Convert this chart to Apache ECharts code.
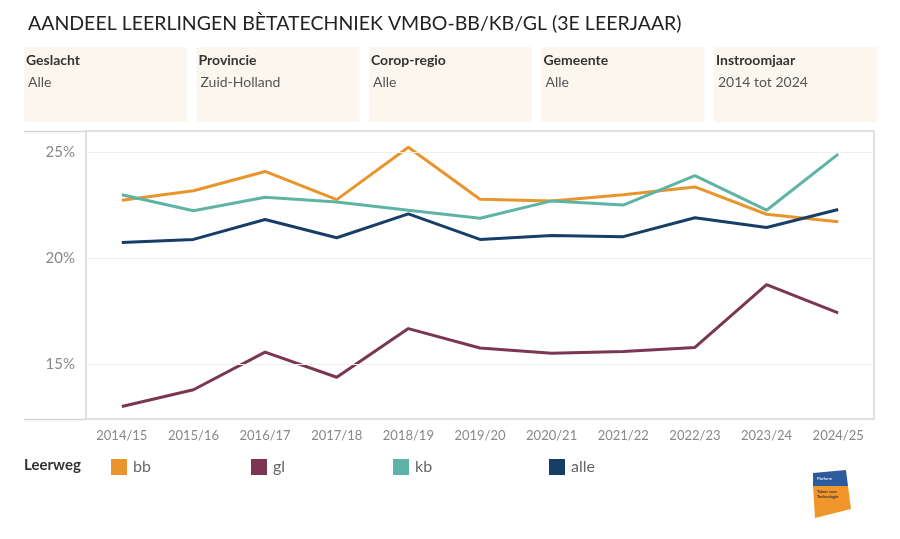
<!DOCTYPE html>
<html>
<head>
<meta charset="utf-8">
<script src="https://cdn.jsdelivr.net/npm/echarts@6/dist/echarts.min.js"></script>
<style>
  html, body { margin: 0; padding: 0; background: #fff; }
  #chart { width: 900px; height: 539px; }
</style>
</head>
<body>
<div id="chart"></div>
<script>
// schooljaren (x-as)
const years = ['2014/15', '2015/16', '2016/17', '2017/18', '2018/19', '2019/20', '2020/21', '2021/22', '2022/23', '2023/24', '2024/25'];

// aandeel per leerweg, in procenten
const bb   = [22.73, 23.18, 24.09, 22.76, 25.23, 22.78, 22.70, 22.99, 23.36, 22.07, 21.71];
const gl   = [12.99, 13.78, 15.56, 14.37, 16.67, 15.75, 15.51, 15.59, 15.78, 18.75, 17.41];
const kb   = [22.99, 22.23, 22.87, 22.65, 22.26, 21.88, 22.70, 22.50, 23.89, 22.26, 24.91];
const alle = [20.73, 20.88, 21.82, 20.96, 22.09, 20.88, 21.07, 21.01, 21.90, 21.44, 22.29];

const yTicks = [15, 20, 25];

// filters bovenaan
const filterLabels = ['Geslacht', 'Provincie', 'Corop-regio', 'Gemeente', 'Instroomjaar'];
const filterValues = ['Alle', 'Zuid-Holland', 'Alle', 'Alle', '2014 tot 2024'];

const colors = { bb: '#E8952B', gl: '#7B3654', kb: '#5DB4A4', alle: '#173E66' };
const FONT = 'Lato, "Open Sans", sans-serif';

const chart = echarts.init(document.getElementById('chart'), null, { renderer: 'canvas' });

// filter-blokken
const graphics = [];
filterLabels.forEach((lab, i) => {
  const x = 24 + i * 172.5;
  graphics.push({
    type: 'rect', left: x, top: 47, silent: true,
    shape: { width: 163, height: 75 },
    style: { fill: '#FBF7EF' }
  });
  graphics.push({
    type: 'text', left: x + 2, top: 53,
    style: { text: lab, fill: '#333', font: 'bold 14px ' + FONT }
  });
  graphics.push({
    type: 'text', left: x + 4, top: 75,
    style: { text: filterValues[i], fill: '#555', font: '14px ' + FONT }
  });
});

// titel
graphics.push({
  type: 'text', left: 28, top: 14,
  style: { text: 'AANDEEL LEERLINGEN BÈTATECHNIEK VMBO-BB/KB/GL (3E LEERJAAR)', fill: '#222', font: '19.5px ' + FONT }
});

// lijnen links van de plot (doorlopende boven- en onderrand)
graphics.push({ type: 'line', silent: true, shape: { x1: 24, y1: 131.5, x2: 86, y2: 131.5 }, style: { stroke: '#d6d6d6', lineWidth: 1.5 } });
graphics.push({ type: 'line', silent: true, shape: { x1: 24, y1: 419.5, x2: 86, y2: 419.5 }, style: { stroke: '#d6d6d6', lineWidth: 1.5 } });

// legenda-titel
graphics.push({
  type: 'text', left: 24, top: 458,
  style: { text: 'Leerweg', fill: '#333', font: 'bold 15px ' + FONT }
});

// logo
graphics.push({
  type: 'polygon', silent: true,
  shape: { points: [[813, 473], [846, 470], [848, 486], [813, 487]] },
  style: { fill: '#2D5C9E' }
});
graphics.push({
  type: 'polygon', silent: true,
  shape: { points: [[813, 486], [848, 486], [851, 509], [815, 518]] },
  style: { fill: '#F0962A' }
});
graphics.push({ type: 'text', left: 817, top: 477, style: { text: 'Platform', fill: '#fff', font: '4px ' + FONT } });
graphics.push({ type: 'text', left: 817, top: 490, style: { text: 'Talent voor', fill: '#333', font: 'bold 4px ' + FONT } });
graphics.push({ type: 'text', left: 817, top: 495, style: { text: 'Technologie', fill: '#333', font: 'bold 4px ' + FONT } });

const legendBase = {
  top: 459, padding: 0, itemWidth: 16, itemHeight: 16, itemGap: 0, icon: 'rect',
  textStyle: { color: '#666', fontSize: 16, fontFamily: FONT, padding: [0, 0, 0, 1] }
};

function lineSeries(name, data, extra) {
  return Object.assign({
    name: name, type: 'line', data: data,
    symbol: 'none', smooth: false,
    lineStyle: { width: 3, color: colors[name] },
    itemStyle: { color: colors[name] }
  }, extra || {});
}

const option = {
  animation: false,
  backgroundColor: '#fff',
  graphic: graphics,
  legend: [
    Object.assign({}, legendBase, { left: 111, data: ['bb'] }),
    Object.assign({}, legendBase, { left: 251, data: ['gl'] }),
    Object.assign({}, legendBase, { left: 393, data: ['kb'] }),
    Object.assign({}, legendBase, { left: 549, data: ['alle'] })
  ],
  grid: {
    left: 86, right: 26, top: 131, bottom: 120,
    show: true, borderColor: '#d6d6d6', borderWidth: 1.5, backgroundColor: 'transparent'
  },
  xAxis: {
    type: 'category',
    data: years,
    boundaryGap: true,
    axisLine: { show: false },
    axisTick: { show: false },
    axisLabel: { color: '#888', fontSize: 13, fontFamily: FONT, margin: 10 }
  },
  yAxis: {
    type: 'value',
    min: 12.4,
    max: 26,
    axisLine: { show: false },
    axisTick: { show: false },
    splitLine: { show: false },
    axisLabel: {
      customValues: yTicks,
      color: '#888', fontSize: 15, fontFamily: FONT, margin: 11,
      formatter: v => v + '%'
    }
  },
  series: [
    // alleen rasterlijnen
    {
      name: 'raster', type: 'line', data: [], silent: true,
      markLine: {
        silent: true, symbol: 'none', label: { show: false },
        lineStyle: { color: '#efefef', width: 1, type: 'solid' },
        data: yTicks.map(v => ({ yAxis: v }))
      }
    },
    lineSeries('bb', bb),
    lineSeries('gl', gl),
    lineSeries('kb', kb),
    lineSeries('alle', alle)
  ]
};

chart.setOption(option);
</script>
</body>
</html>
